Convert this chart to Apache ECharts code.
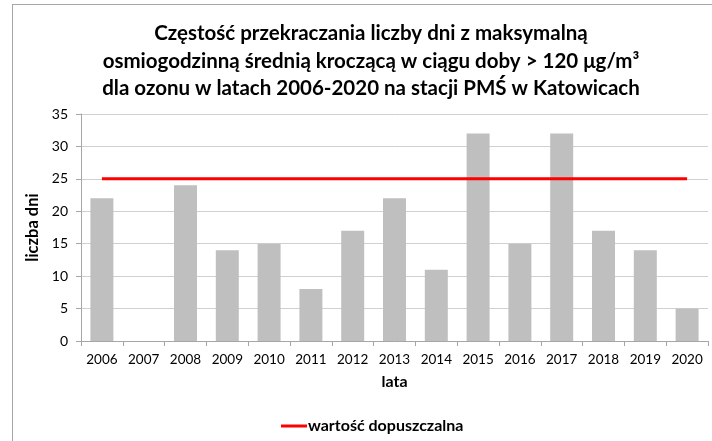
<!DOCTYPE html>
<html lang="pl">
<head>
  <meta charset="utf-8" />
  <title>Ozon - Katowice</title>
  <script src="https://cdn.jsdelivr.net/npm/echarts@6/dist/echarts.min.js"></script>
  <style>
    body { margin: 0; background: #fff; }
    #frame { position: absolute; left: 12px; top: 4px; width: 720px; height: 460px; border: 1px solid #a6a6a6; }
    #chart { position: absolute; left: 0; top: 0; width: 712px; height: 441px; }
  </style>
</head>
<body>
  <div id="frame"></div>
  <div id="chart"></div>
  <script>
    // dane
    var lata = ['2006','2007','2008','2009','2010','2011','2012','2013','2014','2015','2016','2017','2018','2019','2020'];
    var liczbaDni = [22, 0, 24, 14, 15, 8, 17, 22, 11, 32, 15, 32, 17, 14, 5];
    var dopuszczalna = [25, 25, 25, 25, 25, 25, 25, 25, 25, 25, 25, 25, 25, 25, 25];

    var chart = echarts.init(document.getElementById('chart'));
    var option = {
      animation: false,
      textStyle: { fontFamily: 'Lato' },
      title: {
        text: 'Częstość przekraczania liczby dni z maksymalną\nosmiogodzinną średnią kroczącą w ciągu doby > 120 μg/m³\ndla ozonu w latach 2006-2020 na stacji PMŚ w Katowicach',
        left: 366, textAlign: 'center', top: 15,
        textStyle: { fontFamily: 'Lato', fontWeight: 'bold', fontSize: 20.5, lineHeight: 27.5, color: '#000' }
      },
      grid: { left: 81, right: 4, top: 114, bottom: 100 },
      legend: {
        data: [{ name: 'wartość dopuszczalna', icon: 'rect' }],
        left: 276, top: 413,
        itemWidth: 26, itemHeight: 3, itemGap: 2,
        textStyle: { fontFamily: 'Lato', fontWeight: 'bold', fontSize: 16, color: '#000', padding: [0, 0, 0, -4] }
      },
      xAxis: {
        type: 'category', data: lata,
        name: 'lata', nameLocation: 'middle', nameGap: 33,
        nameTextStyle: { fontFamily: 'Lato', fontWeight: 'bold', fontSize: 16, color: '#000' },
        axisLine: { lineStyle: { color: '#a6a6a6' } },
        axisTick: { show: true, length: 5, lineStyle: { color: '#a6a6a6' } },
        axisLabel: { fontSize: 13.5, color: '#000', margin: 12, interval: 0 }
      },
      yAxis: {
        type: 'value', min: 0, max: 35, interval: 5,
        name: 'liczba dni', nameLocation: 'middle', nameGap: 35,
        nameTextStyle: { fontFamily: 'Lato', fontWeight: 'bold', fontSize: 16.5, color: '#000' },
        axisLine: { show: true, lineStyle: { color: '#a6a6a6' } },
        axisTick: { show: true, length: 5, lineStyle: { color: '#a6a6a6' } },
        axisLabel: { fontSize: 14, color: '#000', margin: 13 },
        splitLine: { lineStyle: { color: '#d0d0d0' } }
      },
      series: [
        {
          name: 'liczba dni', type: 'bar', data: liczbaDni,
          barWidth: '55%', itemStyle: { color: '#bfbfbf' }
        },
        {
          name: 'wartość dopuszczalna', type: 'line', data: dopuszczalna,
          symbol: 'none', lineStyle: { color: '#ff0000', width: 3 }, itemStyle: { color: '#ff0000' }
        }
      ]
    };
    chart.setOption(option);
  </script>
</body>
</html>
